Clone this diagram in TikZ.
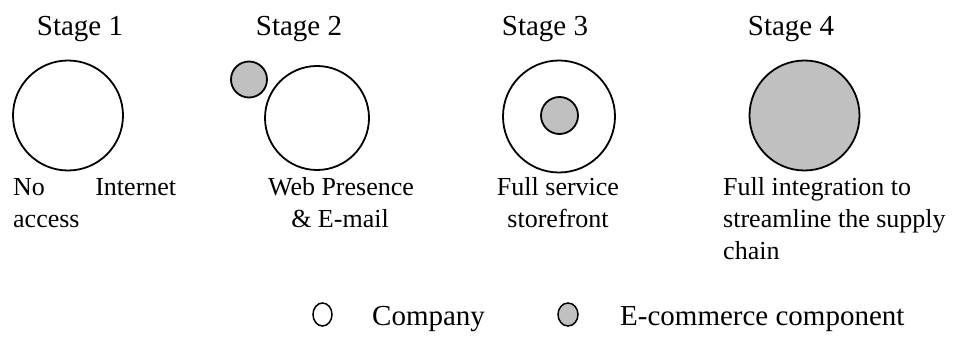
\documentclass[tikz,border=0pt]{standalone}
\usepackage{fontspec}
\setmainfont{Liberation Serif}
\usetikzlibrary{shapes.geometric}
\definecolor{ecgray}{HTML}{C0C0C0}
\begin{document}
\begin{tikzpicture}[x=1pt,y=-1pt,
  ring/.style={circle,draw=black,line width=1.8pt,fill=white,inner sep=0pt},
  ecom/.style={circle,draw=black,line width=1.8pt,fill=ecgray,inner sep=0pt},
  title/.style={anchor=base,inner sep=0pt,font=\fontsize{29}{34}\selectfont},
  lbl/.style={inner sep=0pt,font=\fontsize{26}{32}\selectfont},
  leg/.style={anchor=base west,inner sep=0pt,font=\fontsize{29}{34}\selectfont}]
\useasboundingbox (0,0) rectangle (959,339);
% titles
\node[title] (t1) at (80,36) {Stage 1};
\node[title] (t2) at (299,36) {Stage 2};
\node[title] (t3) at (545,36) {Stage 3};
\node[title] (t4) at (791,36) {Stage 4};
% circles
\node[ring,minimum size=110pt] (c1) at (68,115.5) {};
\node[ecom,minimum size=36pt] (c2s) at (249,79.5) {};
\node[ring,minimum size=104pt] (c2) at (317,118) {};
\node[ring,minimum size=112pt] (c3) at (559,116.5) {};
\node[ecom,minimum size=37pt] (c3s) at (559.5,115.5) {};
\node[ecom,minimum size=110pt] (c4) at (804.5,115.5) {};
% labels
\node[lbl,anchor=base west] (l1a) at (13,196) {\hbox to 163pt{No\hfill Internet}};
\node[lbl,anchor=base west] (l1b) at (13,228) {access};
\node[lbl,anchor=base] (l2a) at (341,196) {Web Presence};
\node[lbl,anchor=base] (l2b) at (340,228) {\& E-mail};
\node[lbl,anchor=base] (l3a) at (558,196) {Full service};
\node[lbl,anchor=base] (l3b) at (558,228) {storefront};
\node[lbl,anchor=base west] (l4a) at (723,196) {Full integration to};
\node[lbl,anchor=base west] (l4b) at (723,228) {streamline the supply};
\node[lbl,anchor=base west] (l4c) at (723,260) {chain};
% legend
\node[ellipse,draw=black,line width=1.5pt,fill=white,inner sep=0pt,minimum width=19pt,minimum height=23pt] (k1) at (322.5,314.5) {};
\node[leg] (k1t) at (372,325) {Company};
\node[ellipse,draw=black,line width=1.5pt,fill=ecgray,inner sep=0pt,minimum width=20pt,minimum height=23pt] (k2) at (568,314.5) {};
\node[leg] (k2t) at (620,325) {E-commerce component};
\end{tikzpicture}
\end{document}
